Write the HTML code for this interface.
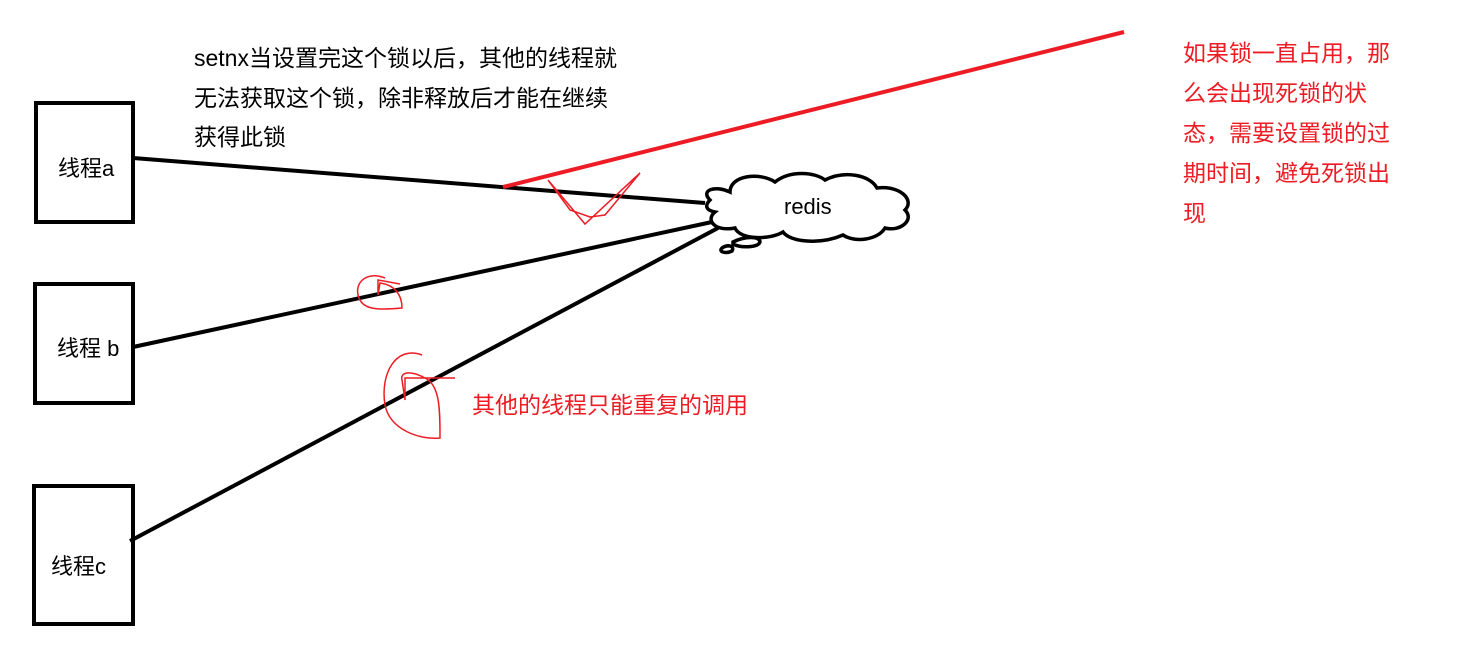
<!DOCTYPE html>
<html><head><meta charset="utf-8"><style>
body{margin:0;background:#fff;}
svg{display:block}
text{font-family:"Liberation Sans","Noto Sans CJK SC",sans-serif;font-size:23px;dominant-baseline:middle}
.s{font-size:22px}
</style></head><body>
<svg width="1482" height="672" viewBox="0 0 1482 672">
<g fill="none" stroke="#000" stroke-width="4">
<rect x="36" y="103" width="97" height="119"/>
<rect x="35" y="284" width="98" height="119"/>
<rect x="34" y="486" width="99" height="138"/>
<line x1="133" y1="158" x2="705" y2="203"/>
<line x1="133" y1="347" x2="712" y2="222"/>
<line x1="130" y1="541" x2="718" y2="228"/>
<path d="M710 200 C700 190,715 185,730 192 C730 175,760 172,775 182 C790 170,815 172,825 180 C845 170,870 175,877 188 C900 185,915 200,905 210 C915 220,900 232,885 228 C878 240,855 243,843 235 C820 245,790 242,783 232 C770 240,740 240,735 228 C715 232,705 220,715 212 C705 210,705 205,710 200 Z" stroke-width="3.5"/>
<path d="M733 242 C745 236,760 236,760 242 C758 248,740 248,733 244 Z M722 248 C728 244,735 246,732 251 C726 254,718 252,722 248 Z" stroke-width="3.5"/>
</g>
<line x1="503" y1="187" x2="1124" y2="32" stroke="#ed1c24" stroke-width="4"/>
<g fill="none" stroke="#ed1c24" stroke-width="1.5">
<path d="M548 180 L570 210 L590 217 L605 215 L640 173 L585 224 Z"/>
<path d="M385 278 C365 270,352 285,360 300 C365 310,380 310,402 308 C402 295,395 285,380 283 L378 295 L378 280 L400 284"/>
<path d="M422 355 C395 345,380 375,385 405 C390 430,420 440,440 438 C440 410,440 385,425 378 C410 370,400 372,402 380 L405 400 L405 378 L455 378"/>
</g>
<text x="194" y="60">setnx当设置完这个锁以后，其他的线程就</text>
<text x="194" y="100">无法获取这个锁，除非释放后才能在继续</text>
<text x="194" y="139">获得此锁</text>
<text class="s" x="58" y="170">线程a</text>
<text class="s" x="57" y="350">线程 b</text>
<text class="s" x="51" y="568">线程c</text>
<text class="s" x="784" y="208">redis</text>
<g fill="#ed1c24">
<text x="472" y="407">其他的线程只能重复的调用</text>
<text x="1183" y="55">如果锁一直占用，那</text>
<text x="1183" y="95">么会出现死锁的状</text>
<text x="1183" y="135">态，需要设置锁的过</text>
<text x="1183" y="175">期时间，避免死锁出</text>
<text x="1183" y="215">现</text>
</g>
</svg>
</body></html>
